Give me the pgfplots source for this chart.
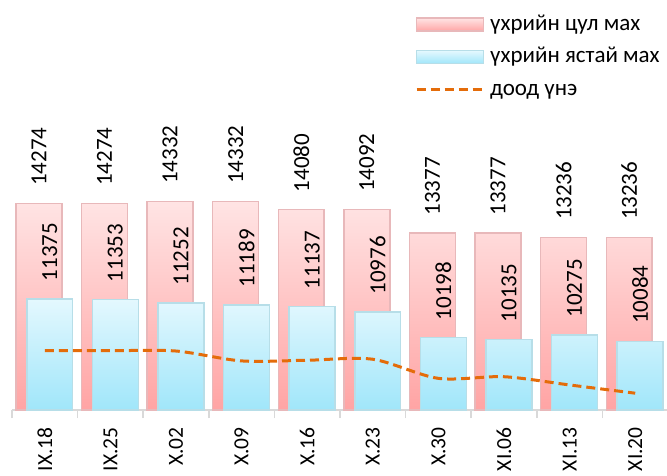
\documentclass[border=0pt]{standalone}
\usepackage{pgfplots}
\pgfplotsset{compat=1.18}
\usepackage{fontspec}
\setmainfont{Carlito}
\definecolor{redTop}{RGB}{255,228,228}
\definecolor{redBot}{RGB}{255,164,164}
\definecolor{redEdge}{RGB}{232,184,186}
\definecolor{bluTop}{RGB}{228,248,254}
\definecolor{bluBot}{RGB}{160,230,250}
\definecolor{bluEdge}{RGB}{183,222,232}
\definecolor{lineOr}{RGB}{228,108,10}
\definecolor{axGray}{RGB}{217,217,217}
\begin{document}
\fontsize{23pt}{27pt}\selectfont
\begin{tikzpicture}
\useasboundingbox (-12pt,-65pt) rectangle (655pt,410pt);
\begin{axis}[
  scale only axis, width=656pt, height=410.7pt,
  xmin=-0.5, xmax=9.5, ymin=0, ymax=12465,
  y filter/.expression={y-8000},
  axis x line*=bottom, axis y line=none,
  axis line style={axGray, line width=2pt},
  xtick={0,...,9},
  xticklabels={IX.18,IX.25,X.02,X.09,X.16,X.23,X.30,XI.06,XI.13,XI.20},
  major tick length=0pt,
  minor xtick={-0.5,0.5,...,9.5},
  minor tick length=8pt,
  tick align=outside,
  minor tick style={axGray, line width=1.5pt},
  xticklabel style={rotate=90, anchor=east, inner sep=0pt, font=\fontsize{21.5pt}{25pt}\selectfont},
  xticklabel shift=17pt,
  /pgf/number format/assume math mode=true,
  /pgf/number format/1000 sep={},
  legend cell align=left,
  legend style={at={(rel axis cs:0.6143,0.9642)}, anchor=north west,
    draw=none, fill=none, inner sep=0pt, row sep=11.5pt, column sep=5pt,
    nodes={inner sep=0pt, text height=16pt, text depth=5pt}},
  clip=false,
]
\addplot[ybar, bar width=0.7, bar shift=0pt, x filter/.expression={x-0.091},
  draw=redEdge, line width=1.5pt, top color=redTop, bottom color=redBot,
  nodes near coords, point meta=rawy,
  every node near coord/.append style={rotate=90, anchor=west, inner sep=0pt, outer xsep=17.5pt, text=black},
  legend image code/.code={\draw[draw=redEdge, line width=1.5pt, top color=redTop, bottom color=redBot] (0pt,-6.5pt) rectangle (67pt,6.5pt);}]
  coordinates {(0,14274) (1,14274) (2,14332) (3,14332) (4,14080) (5,14092) (6,13377) (7,13377) (8,13236) (9,13236)};
\addlegendentry{үхрийн цул мах}
\addplot[ybar, bar width=0.7, bar shift=0pt, x filter/.expression={x+0.075},
  draw=bluEdge, line width=1.5pt, top color=bluTop, bottom color=bluBot,
  nodes near coords, point meta=rawy,
  every node near coord/.append style={rotate=90, anchor=west, inner sep=0pt, outer xsep=17.5pt, text=black},
  legend image code/.code={\draw[draw=bluEdge, line width=1.5pt, top color=bluTop, bottom color=bluBot] (0pt,-6.5pt) rectangle (67pt,6.5pt);}]
  coordinates {(0,11375) (1,11353) (2,11252) (3,11189) (4,11137) (5,10976) (6,10198) (7,10135) (8,10275) (9,10084)};
\addlegendentry{үхрийн ястай мах}
\addplot[lineOr, line width=3pt, dash pattern=on 9pt off 5pt, smooth, mark=none,
  legend image code/.code={\draw[lineOr, line width=3pt, dash pattern=on 9pt off 5pt] (0pt,0pt) -- (67pt,0pt);}]
  coordinates {(0,9800) (1,9800) (2,9790) (3,9490) (4,9510) (5,9540) (6,8960) (7,9010) (8,8760) (9,8510)};
\addlegendentry{доод үнэ}
\end{axis}
\end{tikzpicture}
\end{document}
